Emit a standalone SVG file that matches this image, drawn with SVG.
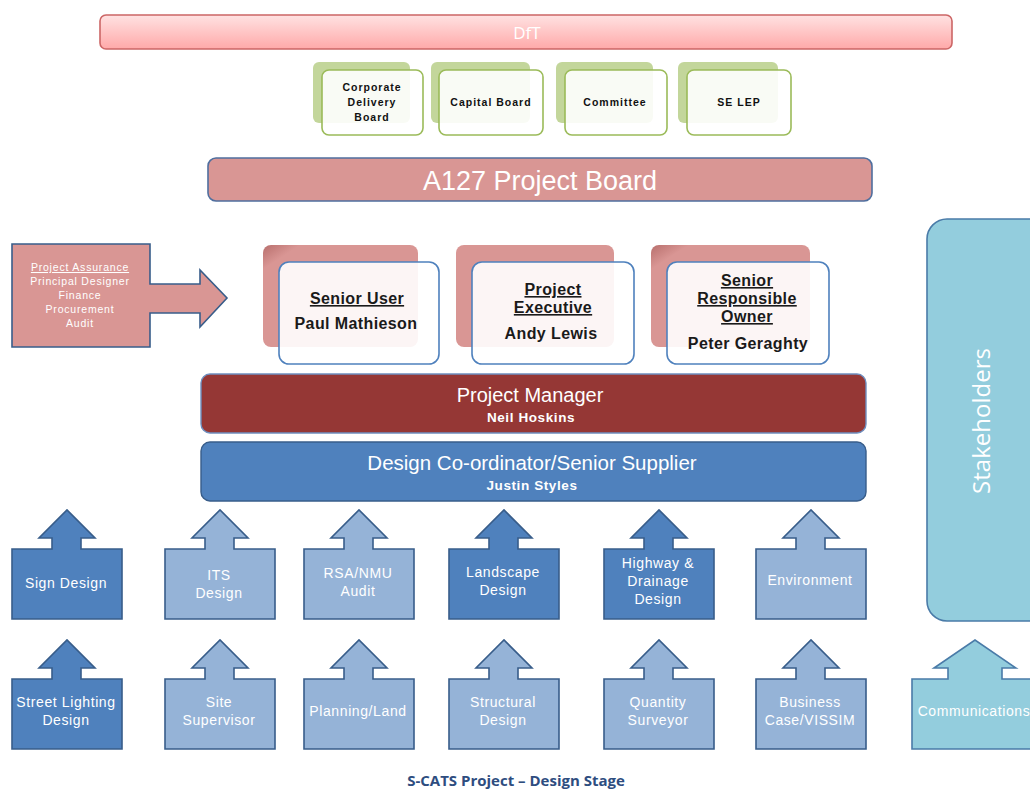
<svg xmlns="http://www.w3.org/2000/svg" width="1030" height="789" viewBox="0 0 1030 789">
<defs>
<linearGradient id="dftGrad" x1="0" y1="0" x2="0" y2="1">
<stop offset="0" stop-color="#ffe2e2"/>
<stop offset="1" stop-color="#ffa9a9"/>
</linearGradient>
<linearGradient id="backShade" x1="0" y1="0" x2="1" y2="1">
<stop offset="0" stop-color="#b86f6d"/>
<stop offset="0.12" stop-color="#d99694"/>
<stop offset="1" stop-color="#d99694"/>
</linearGradient>
<path id="upArrow" d="M0,0 H40 V-11 H27 L55,-39 L83,-11 H69 V0 H110 V70 H0 Z"/>
</defs>
<style>
.sans{font-family:"Liberation Sans",Arial,sans-serif}
.wt{fill:#ffffff}
.boardBack{fill:#c3d69b}
.boardFront{fill:#ffffff;fill-opacity:0.9;stroke:#9bbb59;stroke-width:1.6}
.boardTxt{font-family:"Liberation Sans",Arial,sans-serif;font-size:10.5px;font-weight:bold;fill:#111111;text-anchor:middle;letter-spacing:1px}
.senFront{fill:#ffffff;fill-opacity:0.9;stroke:#4f81bd;stroke-width:1.6}
.senTxt{font-family:"Liberation Sans",Arial,sans-serif;font-size:16px;font-weight:bold;fill:#1a1a1a;text-anchor:middle;letter-spacing:0.4px}
.dark{fill:#4f81bd;stroke:#385d8a;stroke-width:1.6}
.light{fill:#95b3d7;stroke:#385d8a;stroke-width:1.6}
.aqua{fill:#93cddd;stroke:#4a7ba8;stroke-width:1.6}
.boxTxt{font-family:"Liberation Sans",Arial,sans-serif;font-size:14px;fill:#ffffff;text-anchor:middle;letter-spacing:0.6px}
.paTxt{font-family:"Liberation Sans",Arial,sans-serif;font-size:10.5px;fill:#ffffff;text-anchor:middle;letter-spacing:0.8px}
</style>

<g id="dft">
<rect x="100" y="15" width="852" height="34" rx="6" fill="url(#dftGrad)" stroke="#cc6666" stroke-width="1.6"/>
<text x="527" y="39" font-family="'Open Sans','Liberation Sans',sans-serif" font-size="17" fill="#ffffff" text-anchor="middle">DfT</text>
</g>

<g id="corporate-delivery-board">
<rect class="boardBack" x="313" y="62" width="97" height="61" rx="6"/>
<rect class="boardFront" x="322" y="70" width="101" height="65" rx="7"/>
<text class="boardTxt" x="372" y="91">Corporate</text>
<text class="boardTxt" x="372" y="106">Delivery</text>
<text class="boardTxt" x="372" y="121">Board</text>
</g>
<g id="capital-board">
<rect class="boardBack" x="431" y="62" width="99" height="61" rx="6"/>
<rect class="boardFront" x="439" y="70" width="104" height="65" rx="7"/>
<text class="boardTxt" x="491" y="106">Capital Board</text>
</g>
<g id="committee">
<rect class="boardBack" x="556" y="62" width="97" height="61" rx="6"/>
<rect class="boardFront" x="565" y="70" width="102" height="65" rx="7"/>
<text class="boardTxt" x="615" y="106">Committee</text>
</g>
<g id="se-lep">
<rect class="boardBack" x="678" y="62" width="100" height="61" rx="6"/>
<rect class="boardFront" x="687" y="70" width="104" height="65" rx="7"/>
<text class="boardTxt" x="739" y="106">SE LEP</text>
</g>

<g id="a127-project-board">
<rect x="208" y="158" width="664" height="43" rx="8" fill="#d99694" stroke="#4f6f9f" stroke-width="1.6"/>
<text x="540" y="190" class="sans wt" font-size="27" text-anchor="middle">A127 Project Board</text>
</g>

<g id="project-assurance">
<path d="M12,244 H150 V284 H200 V270 L227,298 L200,327 V313 H150 V347 H12 Z" fill="#d99694" stroke="#385d8a" stroke-width="1.6"/>
<text class="paTxt" x="80" y="271" text-decoration="underline">Project Assurance</text>
<text class="paTxt" x="80" y="285">Principal Designer</text>
<text class="paTxt" x="80" y="299">Finance</text>
<text class="paTxt" x="80" y="313">Procurement</text>
<text class="paTxt" x="80" y="327">Audit</text>
</g>

<g id="senior-user">
<rect x="263" y="245" width="155" height="102" rx="8" fill="url(#backShade)"/>
<rect class="senFront" x="279" y="262" width="160" height="102" rx="10"/>
<text class="senTxt" x="357" y="304" text-decoration="underline">Senior User</text>
<text class="senTxt" x="356" y="329">Paul Mathieson</text>
</g>
<g id="project-executive">
<rect x="456" y="245" width="158" height="102" rx="8" fill="#d99694"/>
<rect class="senFront" x="472" y="262" width="162" height="102" rx="10"/>
<text class="senTxt" x="553" y="295" text-decoration="underline">Project</text>
<text class="senTxt" x="553" y="313" text-decoration="underline">Executive</text>
<text class="senTxt" x="551" y="339">Andy Lewis</text>
</g>
<g id="senior-responsible-owner">
<rect x="651" y="245" width="159" height="102" rx="8" fill="url(#backShade)"/>
<rect class="senFront" x="667" y="262" width="162" height="102" rx="10"/>
<text class="senTxt" x="747" y="286" text-decoration="underline">Senior</text>
<text class="senTxt" x="747" y="304" text-decoration="underline">Responsible</text>
<text class="senTxt" x="747" y="322" text-decoration="underline">Owner</text>
<text class="senTxt" x="748" y="349">Peter Geraghty</text>
</g>

<g id="project-manager">
<rect x="201" y="374" width="665" height="59" rx="9" fill="#953735" stroke="#6f8fbf" stroke-width="1.4"/>
<text x="530" y="402" class="sans wt" font-size="20" text-anchor="middle">Project Manager</text>
<text x="531" y="422" class="sans wt" font-size="13.5" font-weight="bold" text-anchor="middle" letter-spacing="0.6">Neil Hoskins</text>
</g>

<g id="design-coordinator">
<rect x="201" y="442" width="665" height="59" rx="9" fill="#4f81bd" stroke="#385d8a" stroke-width="1.4"/>
<text x="532" y="470" class="sans wt" font-size="20.5" text-anchor="middle">Design Co-ordinator/Senior Supplier</text>
<text x="532" y="490" class="sans wt" font-size="13.5" font-weight="bold" text-anchor="middle" letter-spacing="0.6">Justin Styles</text>
</g>

<g id="stakeholders">
<rect x="927" y="219" width="130" height="402" rx="20" fill="#93cddd" stroke="#4a7ba8" stroke-width="1.6"/>
<text transform="translate(990,421) rotate(-90)" font-family="'Open Sans','Liberation Sans',sans-serif" font-size="24" fill="#ffffff" text-anchor="middle">Stakeholders</text>
</g>

<g id="sign-design">
<use href="#upArrow" class="dark" x="12" y="549"/>
<text class="boxTxt" x="66" y="588">Sign Design</text>
</g>
<g id="its-design">
<use href="#upArrow" class="light" x="165" y="549"/>
<text class="boxTxt" x="219" y="580">ITS</text>
<text class="boxTxt" x="219" y="598">Design</text>
</g>
<g id="rsa-nmu-audit">
<use href="#upArrow" class="light" x="304" y="549"/>
<text class="boxTxt" x="358" y="578">RSA/NMU</text>
<text class="boxTxt" x="358" y="596">Audit</text>
</g>
<g id="landscape-design">
<use href="#upArrow" class="dark" x="449" y="549"/>
<text class="boxTxt" x="503" y="577">Landscape</text>
<text class="boxTxt" x="503" y="595">Design</text>
</g>
<g id="highway-drainage-design">
<use href="#upArrow" class="dark" x="604" y="549"/>
<text class="boxTxt" x="658" y="568">Highway &amp;</text>
<text class="boxTxt" x="658" y="586">Drainage</text>
<text class="boxTxt" x="658" y="604">Design</text>
</g>
<g id="environment">
<use href="#upArrow" class="light" x="756" y="549"/>
<text class="boxTxt" x="810" y="585">Environment</text>
</g>

<g id="street-lighting-design">
<use href="#upArrow" class="dark" x="12" y="679"/>
<text class="boxTxt" x="66" y="707">Street Lighting</text>
<text class="boxTxt" x="66" y="725">Design</text>
</g>
<g id="site-supervisor">
<use href="#upArrow" class="light" x="165" y="679"/>
<text class="boxTxt" x="219" y="707">Site</text>
<text class="boxTxt" x="219" y="725">Supervisor</text>
</g>
<g id="planning-land">
<use href="#upArrow" class="light" x="304" y="679"/>
<text class="boxTxt" x="358" y="716">Planning/Land</text>
</g>
<g id="structural-design">
<use href="#upArrow" class="light" x="449" y="679"/>
<text class="boxTxt" x="503" y="707">Structural</text>
<text class="boxTxt" x="503" y="725">Design</text>
</g>
<g id="quantity-surveyor">
<use href="#upArrow" class="light" x="604" y="679"/>
<text class="boxTxt" x="658" y="707">Quantity</text>
<text class="boxTxt" x="658" y="725">Surveyor</text>
</g>
<g id="business-case-vissim">
<use href="#upArrow" class="light" x="756" y="679"/>
<text class="boxTxt" x="810" y="707">Business</text>
<text class="boxTxt" x="810" y="725">Case/VISSIM</text>
</g>
<g id="communications">
<path class="aqua" d="M912,679 H948 V668 H934 L975,640 L1016,668 H1002 V679 H1045 V749 H912 Z"/>
<text class="boxTxt" x="974" y="716">Communications</text>
</g>

<g id="connectors"></g>

<g id="caption">
<text x="516" y="786" font-family="'Open Sans','Liberation Sans',sans-serif" font-size="15" font-weight="bold" fill="#2e4d7f" text-anchor="middle">S-CATS Project – Design Stage</text>
</g>
</svg>
